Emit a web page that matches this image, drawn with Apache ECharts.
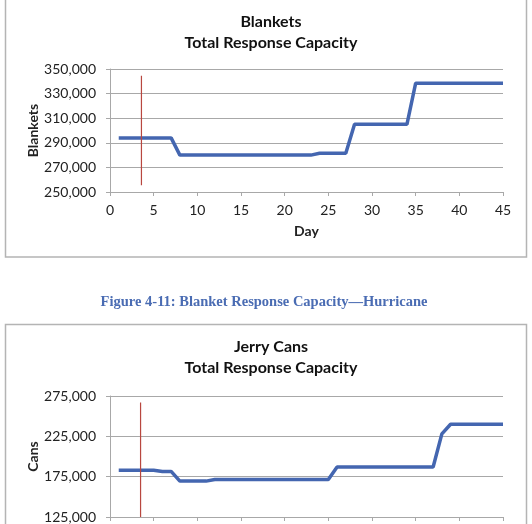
<!DOCTYPE html>
<html lang="en">
<head>
  <meta charset="UTF-8">
  <title>Total Response Capacity</title>
  <script type="text/javascript" src="https://cdn.jsdelivr.net/npm/echarts@6/dist/echarts.min.js"></script>
  <style>
    html, body { margin: 0; padding: 0; background: #fff; }
    #chart { width: 532px; height: 524px; }
  </style>
</head>
<body>
  <div id="chart"></div>
  <script type="text/javascript">
    // day numbers (x values)
    var days = [1, 2, 3, 4, 5, 6, 7, 8, 9, 10, 11, 12, 13, 14, 15, 16, 17, 18, 19, 20,
      21, 22, 23, 24, 25, 26, 27, 28, 29, 30, 31, 32, 33, 34, 35, 36, 37, 38, 39, 40,
      41, 42, 43, 44, 45];

    // blankets, one value per day
    var blankets = [294000, 294000, 294000, 294000, 294000, 294000, 294000,
      280000, 280000, 280000, 280000, 280000, 280000, 280000, 280000,
      280000, 280000, 280000, 280000, 280000, 280000, 280000, 280000,
      281500, 281500, 281500, 281500,
      305000, 305000, 305000, 305000, 305000, 305000, 305000,
      338500, 338500, 338500, 338500, 338500, 338500, 338500, 338500, 338500, 338500, 338500];

    // jerry cans, one value per day
    var jerryCans = [183000, 183000, 183000, 183000, 183000,
      181500, 181500,
      169500, 169500, 169500, 169500,
      171500, 171500, 171500, 171500, 171500, 171500, 171500,
      171500, 171500, 171500, 171500, 171500, 171500, 171500,
      187000, 187000, 187000, 187000, 187000, 187000,
      187000, 187000, 187000, 187000, 187000, 187000,
      228000,
      240000, 240000, 240000, 240000, 240000, 240000, 240000];

    // red "today" marker lines [day, value]
    var blanketMarker = [[3.6, 255500], [3.6, 344500]];
    var canMarker = [[3.5, 125000], [3.5, 267000]];

    var blanketTicks = [250000, 270000, 290000, 310000, 330000, 350000];
    var canTicks = [125000, 175000, 225000, 275000];
    var dayTicks = [0, 5, 10, 15, 20, 25, 30, 35, 40, 45];

    var caption = 'Figure 4-11: Blanket Response Capacity\u2014Hurricane';

    function pairs(xs, ys) {
      return xs.map(function (x, i) { return [x, ys[i]]; });
    }

    var font = 'Lato';
    var gray = '#a8a8a8';

    function xAxis(gridIndex) {
      return {
        type: 'value', gridIndex: gridIndex, min: 0, max: 45, interval: 5,
        name: gridIndex === 0 ? 'Day' : '', nameLocation: 'middle', nameGap: 32,
        nameTextStyle: { fontFamily: font, fontWeight: 'bold', fontSize: 14, color: '#222' },
        axisLine: { show: true, lineStyle: { color: gray, width: 1 } },
        axisTick: { show: true, length: 4, inside: false, lineStyle: { color: gray } },
        axisLabel: { fontFamily: font, fontSize: 14, color: '#222', margin: 11,
          customValues: dayTicks },
        splitLine: { show: false }
      };
    }

    function yAxis(gridIndex, name, min, max, ticks) {
      return {
        type: 'value', gridIndex: gridIndex, min: min, max: max,
        name: name, nameLocation: 'middle', nameGap: 70, nameRotate: 90,
        nameMoveOverlap: false,
        nameTextStyle: { fontFamily: font, fontWeight: 'bold', fontSize: 14, color: '#222' },
        axisLine: { show: true, lineStyle: { color: gray, width: 1 } },
        axisTick: { show: true, length: 4, lineStyle: { color: gray }, customValues: ticks },
        axisLabel: { fontFamily: font, fontSize: 14, color: '#222', margin: 14,
          customValues: ticks,
          formatter: function (v) { return v.toLocaleString('en-US'); } },
        splitLine: { show: true, lineStyle: { color: gray, width: 1 } }
      };
    }

    var titleStyle = { fontFamily: font, fontWeight: 'bold', fontSize: 16, color: '#111', lineHeight: 21 };

    var myChart = echarts.init(document.getElementById('chart'), null, { width: 532, height: 524 });

    var option = {
      animation: false,
      backgroundColor: '#fff',
      title: [
        { text: 'Blankets\nTotal Response Capacity', left: 266, top: 6, textAlign: 'center',
          textStyle: titleStyle },
        { text: 'Jerry Cans\nTotal Response Capacity', left: 266, top: 331, textAlign: 'center',
          textStyle: titleStyle }
      ],
      grid: [
        { left: 110, right: 29, top: 69, height: 123, outerBoundsMode: 'none' },
        { left: 110, right: 29, top: 396, height: 121, outerBoundsMode: 'none' }
      ],
      xAxis: [xAxis(0), xAxis(1)],
      yAxis: [
        yAxis(0, 'Blankets', 250000, 350000, blanketTicks),
        yAxis(1, 'Cans', 125000, 275000, canTicks)
      ],
      graphic: [
        { type: 'rect', silent: true, z: -1,
          shape: { x: 5.5, y: -10, width: 521, height: 267 },
          style: { fill: 'none', stroke: '#b4b4b4', lineWidth: 1.5 } },
        { type: 'rect', silent: true, z: -1,
          shape: { x: 5.5, y: 324.5, width: 521, height: 220 },
          style: { fill: 'none', stroke: '#b4b4b4', lineWidth: 1.5 } },
        { type: 'text', silent: true, x: 264, y: 302,
          style: { text: caption, align: 'center', verticalAlign: 'middle',
            font: 'bold 14.5px "Liberation Serif"', fill: '#4a6cb3' } }
      ],
      series: [
        { type: 'line', xAxisIndex: 0, yAxisIndex: 0, data: pairs(days, blankets),
          showSymbol: false, lineStyle: { color: '#4466b0', width: 3.5 } },
        { type: 'line', xAxisIndex: 0, yAxisIndex: 0, data: blanketMarker,
          showSymbol: false, lineStyle: { color: '#b8473f', width: 1.2 } },
        { type: 'line', xAxisIndex: 1, yAxisIndex: 1, data: pairs(days, jerryCans),
          showSymbol: false, lineStyle: { color: '#4466b0', width: 3.5 } },
        { type: 'line', xAxisIndex: 1, yAxisIndex: 1, data: canMarker,
          showSymbol: false, lineStyle: { color: '#b8473f', width: 1.2 } }
      ]
    };

    myChart.setOption(option);
  </script>
</body>
</html>
